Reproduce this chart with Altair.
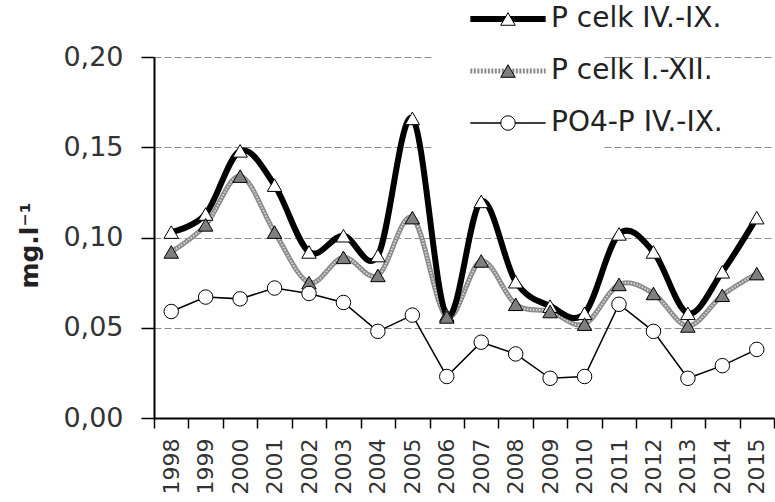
import altair as alt
import pandas as pd

years = [str(y) for y in range(1998, 2016)]
p_iv_ix = [0.103, 0.113, 0.148, 0.129, 0.092, 0.101, 0.090, 0.166, 0.057,
           0.120, 0.0755, 0.062, 0.058, 0.102, 0.092, 0.058, 0.081, 0.111]
p_i_xii = [0.092, 0.107, 0.134, 0.103, 0.075, 0.089, 0.079, 0.111, 0.056,
           0.087, 0.063, 0.059, 0.052, 0.074, 0.069, 0.051, 0.068, 0.080]
po4_iv_ix = [0.059, 0.067, 0.066, 0.072, 0.069, 0.064, 0.048, 0.057, 0.023,
             0.042, 0.0355, 0.022, 0.023, 0.063, 0.048, 0.022, 0.029, 0.038]
series_names = ["P celk IV.-IX.", "P celk I.-XII.", "PO4-P IV.-IX."]
# marker legend keys (trailing space keeps the two legends separate)
marker_names = [n + " " for n in series_names]
y_ticks = [0.0, 0.05, 0.10, 0.15, 0.20]

rows = []
for name, mname, vals in zip(series_names, marker_names, [p_iv_ix, p_i_xii, po4_iv_ix]):
    for yr, v in zip(years, vals):
        rows.append({"year": yr, "value": v, "series": name, "series_p": mname})
df = pd.DataFrame(rows)

FONT = "DejaVu Sans"

x_enc = alt.X(
    "year:O",
    scale=alt.Scale(type="band", paddingInner=0, paddingOuter=0),
    axis=alt.Axis(title=None, labelAngle=-90, labelFont=FONT, labelFontSize=22,
                  labelColor="#333333", labelPadding=10, tickBand="extent",
                  tickSize=10, tickColor="black", tickWidth=1.5,
                  domainColor="black", domainWidth=2, grid=False),
)
y_enc = alt.Y(
    "value:Q",
    scale=alt.Scale(domain=[0, 0.2], nice=False, zero=True),
    axis=alt.Axis(values=y_ticks,
                  labelExpr="replace(format(datum.value, '.2f'), '.', ',')",
                  title="mg.l⁻¹", titleFont=FONT, titleFontSize=25,
                  titleFontWeight="bold", titleColor="#222222",
                  titleX=-125, titleY=188, titleAngle=270,
                  titleAlign="center", titleBaseline="middle",
                  labelFont=FONT, labelFontSize=27, labelColor="#333333",
                  labelPadding=18, tickSize=13, tickColor="black", tickWidth=1.5,
                  domainColor="black", domainWidth=2, grid=True,
                  gridColor="#8c8c8c", gridDash=[7, 3], gridWidth=1),
)

blank_label = "'" + " " * 40 + "'"

line_legend = alt.Legend(
    orient="none", legendX=280, legendY=-97, title=None,
    symbolType="M-5.2,0H5.2", symbolSize=210, symbolOffset=15,
    symbolStrokeWidth=alt.ExprRef(expr="datum.value === 'P celk IV.-IX.' ? 6 : (datum.value === 'P celk I.-XII.' ? 5 : 1.5)"),
    symbolDash=alt.ExprRef(expr="datum.value === 'P celk I.-XII.' ? [2, 1.5] : [1, 0]"),
    symbolOpacity=1, symbolFillColor="transparent",
    labelExpr=blank_label, labelLimit=600,
    labelFont=FONT, labelFontSize=28, labelOffset=29,
    rowPadding=24, padding=45, fillColor="white", strokeColor="white",
)
point_legend = alt.Legend(
    orient="none", legendX=340, legendY=-52, title=None,
    symbolSize=210, symbolStrokeColor="black", symbolStrokeWidth=1,
    symbolFillColor=alt.ExprRef(expr="datum.value === 'P celk I.-XII. ' ? '#7f7f7f' : '#ffffff'"),
    symbolOpacity=1,
    labelFont=FONT, labelFontSize=28, labelColor="#222222", labelOffset=29,
    labelLimit=600, rowPadding=24, padding=0,
)

color_enc = alt.Color("series:N", sort=series_names,
                      scale=alt.Scale(domain=series_names,
                                      range=["#000000", "#8a8a8a", "#000000"]),
                      legend=line_legend)

base = alt.Chart(df)

po4_line = base.transform_filter(alt.datum.series == "PO4-P IV.-IX.").mark_line(
    strokeWidth=1.5).encode(x=x_enc, y=y_enc, color=color_enc)
grey_line = base.transform_filter(alt.datum.series == "P celk I.-XII.").mark_line(
    strokeWidth=5, interpolate="cardinal").encode(x=x_enc, y=y_enc, color=color_enc)
grey_texture = base.transform_filter(alt.datum.series == "P celk I.-XII.").mark_line(
    strokeWidth=2, interpolate="cardinal", color="#d8d8d8",
    strokeDash=[1.5, 1.5]).encode(x=x_enc, y=y_enc)
black_line = base.transform_filter(alt.datum.series == "P celk IV.-IX.").mark_line(
    strokeWidth=6, interpolate="cardinal").encode(x=x_enc, y=y_enc, color=color_enc)

points = base.mark_point(size=210, strokeWidth=1, opacity=1, stroke="black").encode(
    x=x_enc, y=y_enc,
    fill=alt.Fill("series_p:N", sort=marker_names,
                  scale=alt.Scale(domain=marker_names,
                                  range=["#ffffff", "#7f7f7f", "#ffffff"]),
                  legend=None),
    shape=alt.Shape("series_p:N", sort=marker_names,
                    scale=alt.Scale(domain=marker_names,
                                    range=["triangle-up", "triangle-up", "circle"]),
                    legend=point_legend),
)

chart = alt.layer(po4_line, grey_line, grey_texture, black_line, points).properties(
    width=620, height=361,
    autosize=alt.AutoSizeParams(type="none"),
    padding={"left": 154, "top": 57, "right": 1, "bottom": 84},
    background="white",
).configure_view(stroke=None)

chart.save("out.html", embed_options={"renderer": "svg", "actions": False})
